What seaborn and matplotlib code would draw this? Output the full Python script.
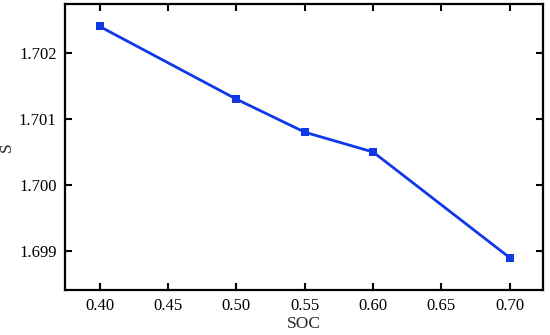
import numpy as np
import pandas as pd
import matplotlib
matplotlib.use("Agg")
import matplotlib.pyplot as plt
import seaborn as sns

soc = [0.40, 0.50, 0.55, 0.60, 0.70]
s_vals = [1.7024, 1.7013, 1.7008, 1.7005, 1.6989]
x_ticks = [0.40, 0.45, 0.50, 0.55, 0.60, 0.65, 0.70]
y_ticks = [1.699, 1.700, 1.701, 1.702]

df = pd.DataFrame({"SOC": soc, "S": s_vals})

sns.set_style("ticks")
plt.rcParams['font.family'] = ['Liberation Serif', 'DejaVu Serif']

fig = plt.figure(figsize=(5.5, 3.35), dpi=100)
ax = fig.add_axes([0.118, 0.134, 0.869, 0.854])

sns.lineplot(data=df, x="SOC", y="S", ax=ax, color="#1038e8", linewidth=2,
             marker="s", markersize=6, markeredgewidth=0, markerfacecolor="#1038e8")

ax.set_xlim(0.3745, 0.7242)
ax.set_ylim(1.69841, 1.70274)
ax.set_xticks(x_ticks)
ax.set_xticklabels([f"{v:.2f}" for v in x_ticks])
ax.set_yticks(y_ticks)
ax.set_yticklabels([f"{v:.3f}" for v in y_ticks])

for sp in ax.spines.values():
    sp.set_visible(True)
    sp.set_linewidth(1.6)
    sp.set_color("black")
ax.tick_params(direction="in", top=True, right=True, length=5, width=1.5,
               labelsize=12, colors="black", pad=6)
ax.set_xlabel("SOC", fontsize=12.5, labelpad=1)
ax.set_ylabel("S", fontsize=12.5, labelpad=3)

fig.savefig("out.png", dpi=100)
